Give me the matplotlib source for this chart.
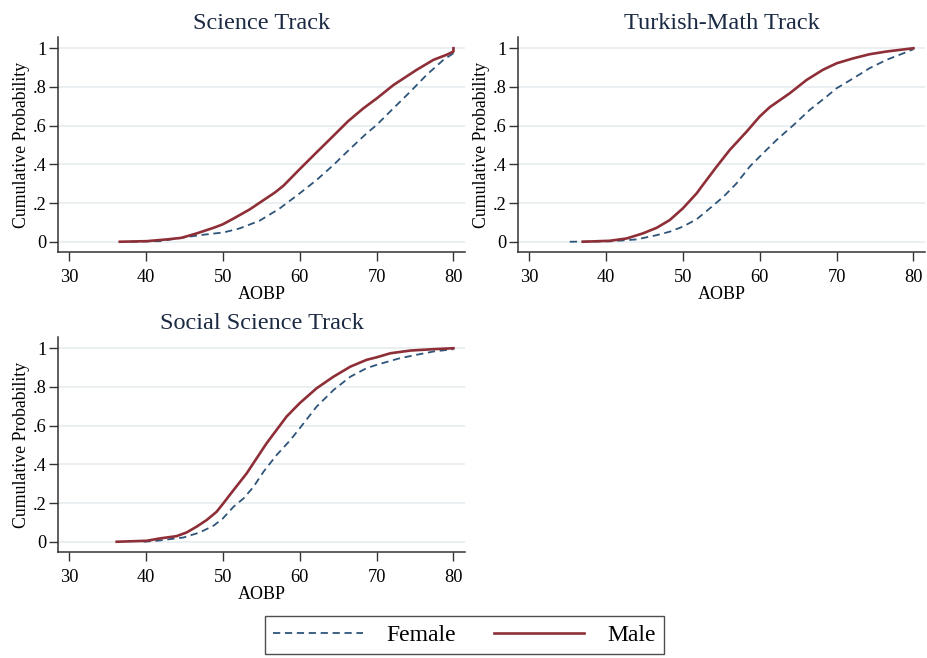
import matplotlib
matplotlib.use("Agg")
import matplotlib.pyplot as plt
from matplotlib.lines import Line2D

plt.rcParams["font.family"] = ["Liberation Serif", "DejaVu Serif"]

# Empirical CDFs of AOBP by gender, one pair per track
sci_male_x = [36.6, 40.1, 42.7, 44.6, 46.6, 48.8, 50.0, 51.4, 53.5, 55.3, 56.8, 57.9, 60.0,
              62.2, 64.4, 66.3, 68.3, 70.0, 72.2, 75.2, 77.4, 79.1, 80.0, 80.0]
sci_male_y = [0.0, 0.003, 0.012, 0.02, 0.043, 0.072, 0.09, 0.12, 0.167, 0.215, 0.255, 0.29, 0.375,
              0.462, 0.548, 0.623, 0.69, 0.74, 0.81, 0.888, 0.94, 0.966, 0.983, 1.0]
sci_female_x = [38.0, 41.8, 44.9, 47.0, 50.1, 52.2, 54.8, 57.4, 60.0, 62.2, 64.4, 66.5,
                68.7, 70.0, 72.2, 74.4, 76.5, 78.7, 80.0, 80.0]
sci_female_y = [0.0, 0.003, 0.022, 0.034, 0.048, 0.069, 0.109, 0.172, 0.25, 0.319, 0.397, 0.478,
                0.56, 0.603, 0.69, 0.776, 0.862, 0.94, 0.974, 1.0]

tm_male_x = [37.0, 40.5, 42.7, 44.8, 46.6, 48.3, 50.0, 51.8, 52.6, 54.4, 56.1, 58.3, 60.0,
             61.3, 63.9, 66.1, 68.2, 70.0, 72.2, 74.3, 76.5, 80.0]
tm_male_y = [0.0, 0.005, 0.017, 0.043, 0.072, 0.112, 0.172, 0.25, 0.293, 0.388, 0.474, 0.569, 0.647,
             0.695, 0.767, 0.836, 0.888, 0.922, 0.948, 0.969, 0.983, 1.0]
tm_female_x = [35.3, 40.5, 44.0, 46.6, 48.3, 50.0, 51.8, 53.5, 55.3, 57.0, 58.7, 60.0, 62.2,
               64.4, 66.5, 68.7, 70.0, 72.2, 74.3, 76.5, 78.7, 80.0]
tm_female_y = [0.0, 0.002, 0.012, 0.034, 0.052, 0.078, 0.116, 0.172, 0.233, 0.302, 0.388, 0.44, 0.526,
               0.603, 0.681, 0.75, 0.793, 0.845, 0.897, 0.94, 0.974, 0.995]

ss_male_x = [36.2, 40.1, 41.8, 44.0, 45.3, 46.6, 47.9, 49.2, 50.0, 51.4, 53.1, 54.4, 55.7,
             57.0, 58.3, 60.0, 62.2, 64.4, 66.6, 68.7, 70.0, 71.8, 74.4, 77.4, 80.0]
ss_male_y = [0.0, 0.005, 0.017, 0.029, 0.048, 0.078, 0.112, 0.155, 0.195, 0.267, 0.353, 0.431, 0.509,
             0.578, 0.647, 0.716, 0.793, 0.853, 0.905, 0.94, 0.953, 0.974, 0.988, 0.995, 1.0]
ss_female_x = [39.7, 41.4, 44.9, 47.0, 48.8, 50.0, 51.4, 52.7, 54.0, 55.3, 57.0, 58.8, 60.0,
               62.2, 64.4, 66.6, 68.7, 70.0, 73.0, 75.2, 77.4, 80.0]
ss_female_y = [0.0, 0.005, 0.022, 0.048, 0.083, 0.12, 0.181, 0.224, 0.284, 0.362, 0.448, 0.526, 0.586,
               0.698, 0.784, 0.853, 0.897, 0.914, 0.948, 0.966, 0.983, 0.995]

titles = ["Science Track", "Turkish-Math Track", "Social Science Track"]
x_ticks = [30, 40, 50, 60, 70, 80]
y_ticks = [0, 0.2, 0.4, 0.6, 0.8, 1.0]
y_ticklabels = ["0", ".2", ".4", ".6", ".8", "1"]

MALE = "#8E2F38"
FEMALE = "#2E5479"
GRID = "#E6EEF0"
TITLE = "#1C2A44"

W, H = 927, 658
fig = plt.figure(figsize=(W / 100, H / 100), dpi=100)
fig.patch.set_facecolor("white")


def rect(l, t, r, b):
    return [l / W, 1 - b / H, (r - l) / W, (b - t) / H]


panels = [
    (rect(58, 37, 465, 252), titles[0], sci_female_x, sci_female_y, sci_male_x, sci_male_y),
    (rect(518, 37, 925, 252), titles[1], tm_female_x, tm_female_y, tm_male_x, tm_male_y),
    (rect(58, 337, 465, 552), titles[2], ss_female_x, ss_female_y, ss_male_x, ss_male_y),
]

for box, title, fx, fy, mx, my in panels:
    ax = fig.add_axes(box)
    for yv in y_ticks:
        ax.axhline(yv, color=GRID, lw=1.2, zorder=0)
    ax.plot(fx, fy, color=FEMALE, lw=1.3, ls=(0, (4, 2.6)), zorder=2)
    ax.plot(mx, my, color=MALE, lw=1.9, zorder=3)
    ax.set_xlim(28.57, 81.5)
    ax.set_ylim(-0.053, 1.058)
    ax.set_xticks(x_ticks)
    ax.set_xticklabels([str(v) for v in x_ticks])
    ax.set_yticks(y_ticks)
    ax.set_yticklabels(y_ticklabels)
    for s in ("top", "right"):
        ax.spines[s].set_visible(False)
    for s in ("left", "bottom"):
        ax.spines[s].set_color("#333333")
        ax.spines[s].set_linewidth(1.1)
    ax.tick_params(axis="both", direction="out", length=6.5, width=1.0,
                   color="#333333", labelsize=13.2, pad=2)
    ax.tick_params(axis="x", pad=5.5)
    ax.set_xlabel("AOBP", fontsize=13, labelpad=0)
    ax.set_ylabel("Cumulative Probability", fontsize=12.8, labelpad=2)
    ax.set_title(title, fontsize=17.5, color=TITLE, pad=6)

handles = [
    Line2D([], [], color=FEMALE, lw=1.3, ls=(0, (4, 2.6))),
    Line2D([], [], color=MALE, lw=1.9),
]
leg = fig.legend(handles, ["Female", "Male"], loc="center",
                 bbox_to_anchor=(464.5 / W, 1 - 635 / H), ncol=2,
                 fontsize=17, frameon=True, fancybox=False, handlelength=3.8,
                 handletextpad=1.0, columnspacing=1.6, borderpad=0.35,
                 borderaxespad=0)
leg.get_frame().set_edgecolor("#222222")
leg.get_frame().set_linewidth(1.0)

fig.savefig("out.png", dpi=100, facecolor="white")
